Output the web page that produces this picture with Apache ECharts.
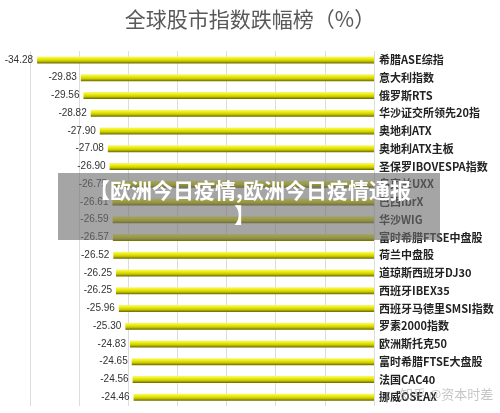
<!DOCTYPE html>
<html>
<head>
<meta charset="utf-8">
<script src="https://cdn.jsdelivr.net/npm/echarts@6/dist/echarts.min.js"></script>
<style>html,body{margin:0;padding:0;background:#fff;}#c{width:500px;height:413px;}</style>
</head>
<body>
<div id="c"></div>
<script>
var categories = ["希腊ASE综指","意大利指数","俄罗斯RTS","华沙证交所领先20指","奥地利ATX","奥地利ATX主板","圣保罗IBOVESPA指数","乌克兰UXX","巴西IbrX","华沙WIG","富时希腊FTSE中盘股","荷兰中盘股","道琼斯西班牙DJ30","西班牙IBEX35","西班牙马德里SMSI指数","罗素2000指数","欧洲斯托克50","富时希腊FTSE大盘股","法国CAC40","挪威OSEAX"];
var values = [-34.28,-29.83,-29.56,-28.82,-27.90,-27.08,-26.90,-26.75,-26.61,-26.59,-26.57,-26.52,-26.25,-26.25,-25.96,-25.30,-24.83,-24.65,-24.56,-24.46];
var titleText = "全球股市指数跌幅榜（%）";
var overlayLine1 = "【欧洲今日疫情,欧洲今日疫情通报";
var overlayLine2 = "】";
var watermark = "知乎 @资本时差";

var chart = echarts.init(document.getElementById('c'));
chart.setOption({
  backgroundColor: '#fff',
  animation: false,
  title: {
    text: titleText, left: 'center', top: 4,
    textStyle: {fontFamily: 'Noto Sans CJK SC', fontSize: 21, fontWeight: 'normal', color: '#595959'}
  },
  grid: {left: 30, right: 126, top: 51, bottom: 7},
  xAxis: {
    type: 'value', min: -35, max: 0, interval: 5,
    axisLabel: {show: false}, axisLine: {show: false}, axisTick: {show: false},
    splitLine: {show: true, lineStyle: {color: '#dcdcdc', width: 1}}
  },
  yAxis: {
    type: 'category', data: categories, inverse: true, position: 'right',
    axisLine: {show: false}, axisTick: {show: false},
    axisLabel: {margin: 5, fontFamily: 'Noto Sans CJK SC', fontSize: 11, color: '#222', fontWeight: 'bold'}
  },
  series: [{
    type: 'bar', data: values, barWidth: 7,
    itemStyle: {
      color: new echarts.graphic.LinearGradient(0, 0, 0, 1, [
        {offset: 0, color: '#f6f690'},
        {offset: 0.3, color: '#f0f010'},
        {offset: 0.65, color: '#cccc00'},
        {offset: 1, color: '#6a6a00'}
      ])
    },
    label: {
      show: true, position: 'left', distance: 4,
      formatter: function(p){ return p.value.toFixed(2); },
      fontFamily: 'Liberation Sans', fontSize: 10, color: '#333'
    }
  }],
  graphic: [
    {type: 'rect', shape: {x: 58, y: 173, width: 382, height: 67}, style: {fill: 'rgba(110,110,110,0.62)'}, z: 100},
    {type: 'text', left: 'center', top: 180, z: 101,
     style: {text: overlayLine1, fill: '#fff', font: 'bold 21px "Noto Sans CJK SC"', textAlign: 'center'}},
    {type: 'text', left: 234, top: 205, z: 101,
     style: {text: overlayLine2, fill: '#fff', font: 'bold 21px "Noto Sans CJK SC"'}},
    {type: 'text', left: 400, top: 388, z: 101,
     style: {text: watermark, fill: 'rgba(160,160,160,0.6)', font: '13px "Noto Sans CJK SC"'}}
  ]
});
</script>
</body>
</html>
